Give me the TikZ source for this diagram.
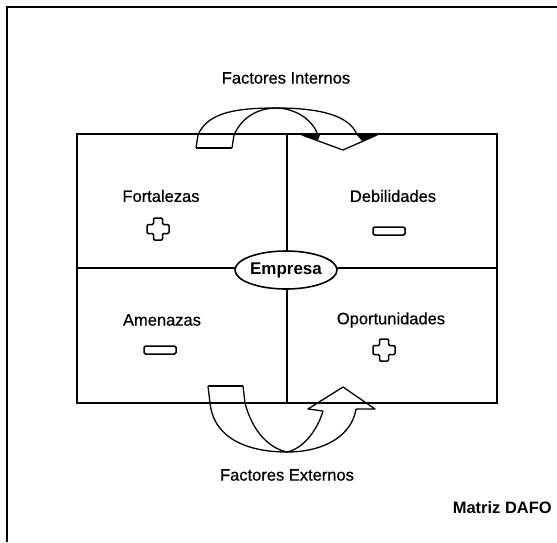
\documentclass[tikz,border=0pt]{standalone}
\usepackage{fontspec}
\setmainfont{Liberation Sans}
\newfontfamily\scanfont[FakeBold=0.6]{Liberation Sans}
\usetikzlibrary{shapes.geometric}
\begin{document}
\begin{tikzpicture}[x=1pt,y=-1pt,
  lbl/.style={font=\scanfont\fontsize{16.5}{19}\selectfont, inner sep=0pt},
  boldlbl/.style={font=\fontsize{16.5}{19}\selectfont\bfseries, inner sep=0pt},
  frame/.style={line width=1.8pt},
  grid/.style={line width=1.6pt},
  arr/.style={line width=1.3pt, line join=round},
  plusicon/.pic={\draw[line width=1.5pt, rounded corners=1.2pt]
     (-4.5,-11) -- (4.5,-11) -- (4.5,-4.5) -- (11,-4.5) -- (11,4.5) -- (4.5,4.5)
     -- (4.5,11) -- (-4.5,11) -- (-4.5,4.5) -- (-11,4.5) -- (-11,-4.5) -- (-4.5,-4.5) -- cycle;},
  minusicon/.pic={\draw[line width=1.5pt, rounded corners=1.5pt] (-16,-4) rectangle (16,4);}
]
\useasboundingbox (0,0) rectangle (557,542);

% outer frame
\coordinate (fTR) at (557,7);
\coordinate (fTL) at (7,7);
\coordinate (fBL) at (7,542);
\draw[frame] (fTR) -- (fTL) -- (fBL);

% main grid coordinates
\coordinate (tl) at (77,134);
\coordinate (tr) at (497,134);
\coordinate (bl) at (77,403);
\coordinate (br) at (497,403);
\coordinate (ml) at (77,268);
\coordinate (mr) at (497,268);
\coordinate (mt) at (287,134);
\coordinate (mb) at (287,403);

% top curved arrow (Factores Internos)
\draw[arr] (196,148) -- (198,135) .. controls (208,111) and (240,108) .. (277,108)
   .. controls (318,108) and (350,115) .. (357,135);
\draw[arr] (232,148) -- (234,135) .. controls (242,117) and (258,108) .. (277,108)
   .. controls (298,109) and (313,121) .. (318,135);
\draw[arr] (196,148) -- (232,148);
\draw[arr] (318,135) -- (302,135) -- (343,150) -- (377,135) -- (357,135);
\fill (302,135) -- (320,135) -- (318,140) -- cycle;
\fill (357,135) -- (377,135) -- (362,141) -- cycle;

% bottom curved arrow (Factores Externos)
\draw[arr] (208,386) -- (210,403) .. controls (214,440) and (250,452) .. (287,452)
   .. controls (325,452) and (352,435) .. (356,409);
\draw[arr] (243,386) -- (245,403) .. controls (252,430) and (268,448) .. (287,452)
   .. controls (305,448) and (318,428) .. (323,411);
\draw[arr] (208,386) -- (243,386);
\draw[arr] (323,411) -- (308,409) -- (343,387) -- (375,409) -- (356,409);

% grid lines
\draw[grid] (tl) -- (tr) -- (br) -- (bl) -- cycle;
\draw[grid] (ml) -- (mr);
\draw[grid] (mt) -- (mb);

% center ellipse
\node[ellipse, draw, line width=1.6pt, fill=white, minimum width=102pt, minimum height=38pt,
      inner sep=0pt, font=\fontsize{17}{20}\selectfont\bfseries] (emp) at (286,270) {Empresa};

% labels
\node[lbl] (fi) at (286,78) {Factores Internos};
\node[lbl] (fe) at (287,475) {Factores Externos};
\node[lbl] (fort) at (161,196) {Fortalezas};
\node[lbl] (deb) at (393,196) {Debilidades};
\node[lbl] (ame) at (162,320) {Amenazas};
\node[lbl] (opo) at (391,320) {Oportunidades};
\node[boldlbl, anchor=east] (dafo) at (552,508) {Matriz DAFO};

% icons
\pic at (158,229) {plusicon};
\pic at (389,231) {minusicon};
\pic at (160,350) {minusicon};
\pic at (384,350) {plusicon};
\end{tikzpicture}
\end{document}
